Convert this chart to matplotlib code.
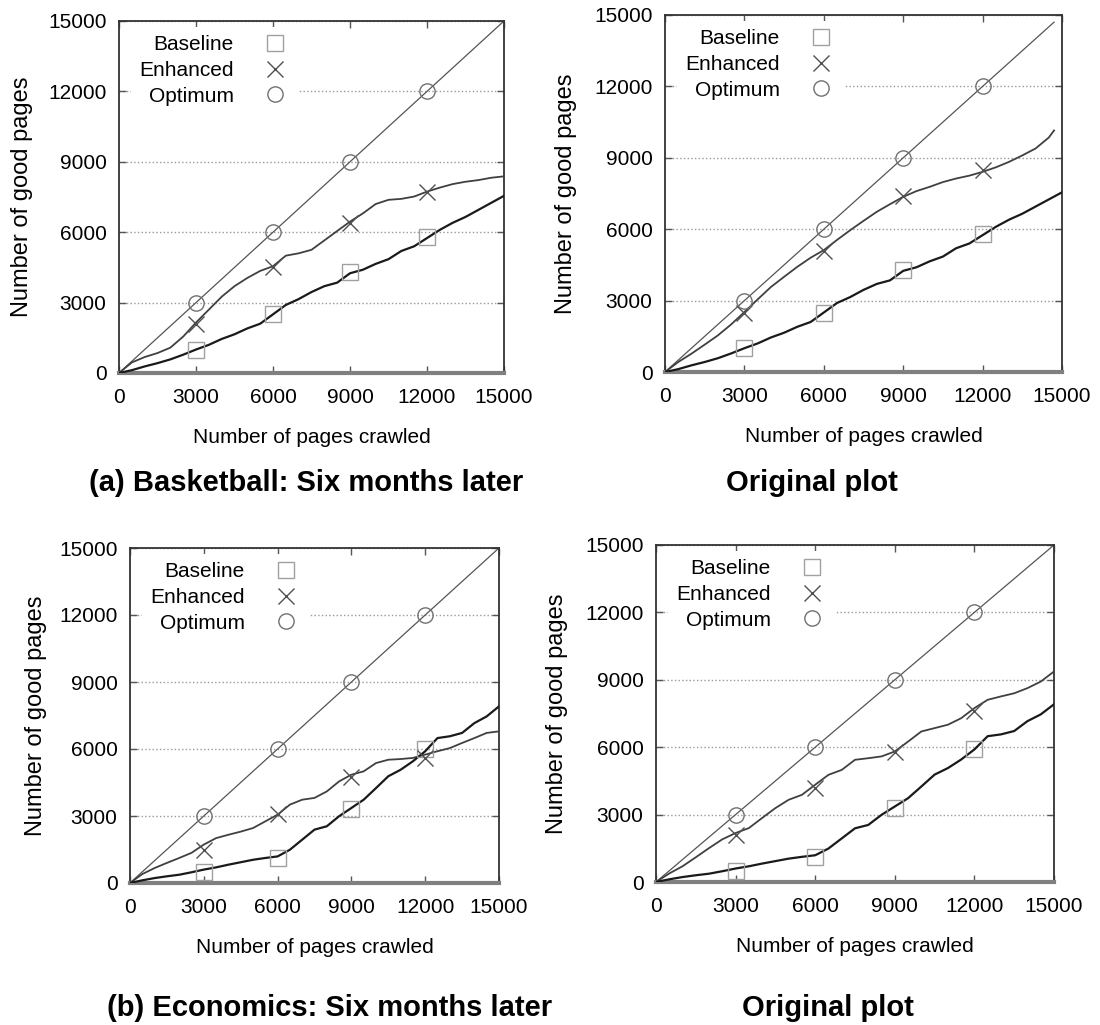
import matplotlib
matplotlib.use('Agg')
import matplotlib.pyplot as plt

plt.rcParams['font.family'] = ['Liberation Sans', 'DejaVu Sans']

# x positions (pages crawled) where the curves were read
pages = [0, 500, 1000, 1500, 2000, 2500, 3000, 3500, 4000, 4500, 5000,
         5500, 6000, 6500, 7000, 7500, 8000, 8500, 9000, 9500, 10000,
         10500, 11000, 11500, 12000, 12500, 13000, 13500, 14000, 14500, 15000]
pages_short = [0, 500, 1000, 1500, 2000, 2500, 3000, 3500, 4000, 4500, 5000,
               5500, 6000, 6500, 7000, 7500, 8000, 8500, 9000, 9500, 10000,
               10500, 11000, 11500, 12000, 12500, 13000, 13500, 14000, 14500, 14700]
point_x = [3000, 6000, 9000, 12000]
ticks = [0, 3000, 6000, 9000, 12000, 15000]

# basketball
bask_base = [0, 120, 280, 420, 580, 780, 1000, 1200, 1450, 1650, 1900,
             2100, 2500, 2900, 3150, 3450, 3700, 3850, 4250, 4400, 4650,
             4850, 5200, 5400, 5750, 6100, 6400, 6650, 6950, 7250, 7550]
bask_enh_later = [0, 450, 680, 850, 1080, 1550, 2150, 2700, 3250, 3700, 4050,
                  4350, 4550, 5000, 5100, 5250, 5650, 6050, 6450, 6800, 7200,
                  7380, 7420, 7520, 7730, 7900, 8050, 8150, 8220, 8320, 8380]
bask_enh_orig = [0, 420, 770, 1150, 1540, 2000, 2520, 3050, 3570, 4000, 4420,
                 4800, 5120, 5550, 5960, 6350, 6730, 7050, 7360, 7600, 7780,
                 7980, 8130, 8250, 8410, 8600, 8830, 9100, 9390, 9850, 10150]
bask_base_pts = [1000, 2500, 4300, 5800]
bask_enh_later_pts = [2100, 4500, 6400, 7700]
bask_enh_orig_pts = [2500, 5100, 7400, 8500]

# economics
econ_base = [0, 120, 220, 300, 370, 480, 600, 700, 820, 930, 1040,
             1120, 1190, 1490, 1940, 2390, 2540, 2990, 3360, 3730, 4250,
             4780, 5070, 5450, 5900, 6490, 6570, 6720, 7160, 7460, 7910]
econ_enh_later = [0, 400, 670, 900, 1120, 1350, 1720, 2010, 2160, 2300, 2460,
                  2760, 3060, 3510, 3730, 3810, 4100, 4550, 4850, 5000, 5370,
                  5520, 5550, 5600, 5750, 5900, 6040, 6270, 6490, 6720, 6790]
econ_enh_orig = [0, 380, 700, 1100, 1510, 1900, 2180, 2400, 2850, 3290, 3660,
                 3880, 4330, 4770, 4990, 5440, 5510, 5590, 5810, 6250, 6700,
                 6850, 7000, 7290, 7740, 8110, 8260, 8400, 8630, 8920, 9370]
econ_base_pts = [500, 1100, 3300, 6000]
econ_base_orig_pts = [500, 1100, 3300, 5900]
econ_enh_later_pts = [1500, 3100, 4750, 5600]
econ_enh_orig_pts = [2100, 4200, 5800, 7600]

optimum_x = [0, 15000]
optimum_y = [0, 15000]
optimum_x_orig = [0, 14700]
optimum_y_orig = [0, 14700]
optimum_pts = [3000, 6000, 9000, 12000]

W, H = 1100, 1025
fig = plt.figure(figsize=(W / 100, H / 100), dpi=100)

# panel boxes in pixels: left, top, right, bottom, ylabel offset
boxes = [(119, 21, 504, 373, 86), (665, 15, 1062, 372, 88),
         (130, 548, 499, 883, 83), (656, 545, 1054, 882, 88)]

panels = [
    (pages, bask_base, pages, bask_enh_later, optimum_x, optimum_y,
     bask_base_pts, bask_enh_later_pts),
    (pages, bask_base, pages_short, bask_enh_orig, optimum_x_orig, optimum_y_orig,
     bask_base_pts, bask_enh_orig_pts),
    (pages, econ_base, pages, econ_enh_later, optimum_x, optimum_y,
     econ_base_pts, econ_enh_later_pts),
    (pages, econ_base, pages, econ_enh_orig, optimum_x, optimum_y,
     econ_base_orig_pts, econ_enh_orig_pts),
]

for (l, t, r, b, yl), data in zip(boxes, panels):
    bx, by, ex, ey, ox, oy, bpts, epts = data
    pw, ph = r - l, b - t
    ax = fig.add_axes([l / W, 1 - b / H, pw / W, ph / H])

    ax.plot(ox, oy, color='#555555', lw=0.9, zorder=2)
    ax.plot(ex, ey, color='#404040', lw=1.3, zorder=3)
    ax.plot(bx, by, color='#1a1a1a', lw=1.6, zorder=4)

    ax.plot(point_x, bpts, ls='none', marker='s', ms=11, mfc='none',
            mec='#a0a0a0', mew=1.0, label='Baseline', zorder=5)
    ax.plot(point_x, epts, ls='none', marker='x', ms=11,
            mec='#505050', mew=1.0, label='Enhanced', zorder=5)
    ax.plot(point_x, optimum_pts, ls='none', marker='o', ms=11, mfc='none',
            mec='#707070', mew=1.0, label='Optimum', zorder=5)

    ax.set_xlim(0, 15000)
    ax.set_ylim(0, 15000)
    ax.set_xticks(ticks)
    ax.set_yticks(ticks)
    ax.tick_params(direction='in', length=5, width=1, color='#555555',
                   top=True, right=True, labelsize=15, pad=11)
    ax.tick_params(axis='y', pad=9)
    ax.yaxis.grid(True, linestyle=':', color='#999999', lw=1.0)
    ax.set_axisbelow(True)
    for s in ['left', 'right', 'top']:
        ax.spines[s].set_color('#333333')
        ax.spines[s].set_linewidth(1.3)
    ax.spines['bottom'].set_color('#808080')
    ax.spines['bottom'].set_linewidth(3.0)

    ax.set_xlabel('Number of pages crawled', fontsize=15)
    ax.set_ylabel('Number of good pages', fontsize=17)
    ax.xaxis.set_label_coords(0.5, -55 / ph)
    ax.yaxis.set_label_coords(-yl / pw, 0.5)

    ax.legend(loc='upper left', bbox_to_anchor=(12 / pw, 1 - 6 / ph),
              markerfirst=False, fontsize=15, handlelength=1.4,
              handletextpad=1.27, labelspacing=0.32, borderpad=0.4,
              borderaxespad=0, frameon=True, fancybox=False,
              facecolor='white', edgecolor='none', framealpha=1)

fig.text(306 / W, 1 - 483 / H, '(a) Basketball: Six months later',
         fontsize=21, fontweight='bold', ha='center', va='center')
fig.text(812 / W, 1 - 483 / H, 'Original plot',
         fontsize=21, fontweight='bold', ha='center', va='center')
fig.text(330 / W, 1 - 1008 / H, '(b) Economics: Six months later',
         fontsize=21, fontweight='bold', ha='center', va='center')
fig.text(828 / W, 1 - 1008 / H, 'Original plot',
         fontsize=21, fontweight='bold', ha='center', va='center')

fig.savefig('out.png', dpi=100)
